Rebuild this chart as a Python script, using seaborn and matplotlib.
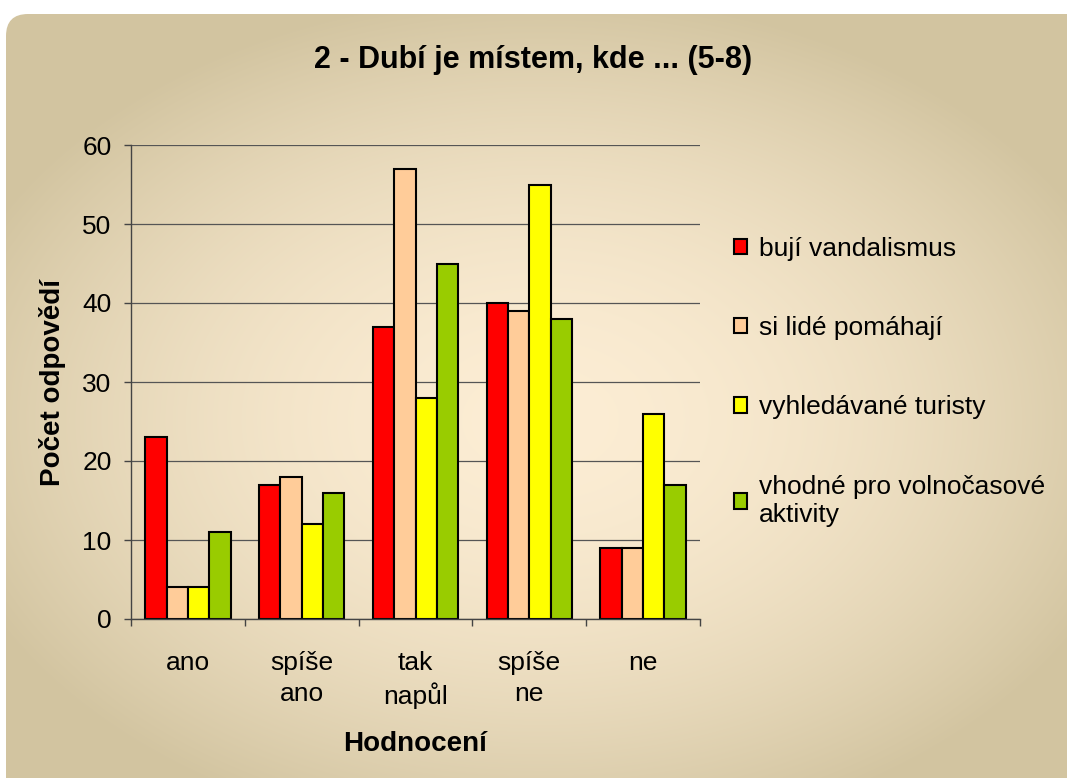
import numpy as np
import pandas as pd
import matplotlib
matplotlib.use("Agg")
import matplotlib.pyplot as plt
import seaborn as sns
from matplotlib.patches import FancyBboxPatch

# data
kategorie = ["ano", "spíše\nano", "tak\nnapůl", "spíše\nne", "ne"]
serie = ["bují vandalismus", "si lidé pomáhají", "vyhledávané turisty",
         "vhodné pro volnočasové\naktivity"]
vandalismus = [23, 17, 37, 40, 9]
pomahaji = [4, 18, 57, 39, 9]
turisty = [4, 12, 28, 55, 26]
volny_cas = [11, 16, 45, 38, 17]
barvy = ["#FF0000", "#FFCC99", "#FFFF00", "#99CC00"]

df = pd.DataFrame({
    "Hodnocení": kategorie * 4,
    "Počet": vandalismus + pomahaji + turisty + volny_cas,
    "Série": [s for s in serie for _ in kategorie],
})

sns.set_theme(style="white")
plt.rcParams["font.family"] = ["Liberation Sans", "DejaVu Sans"]
plt.rcParams["text.color"] = "black"
plt.rcParams["axes.labelcolor"] = "black"
plt.rcParams["xtick.color"] = "black"
plt.rcParams["ytick.color"] = "black"

W, H = 1067, 778
fig = plt.figure(figsize=(W / 100, H / 100), dpi=100)
fig.patch.set_facecolor("white")

# pozadí - zaoblený obdélník s radiálním přechodem
bg = fig.add_axes([0, 0, 1, 1])
bg.set_xlim(0, W)
bg.set_ylim(H, 0)
bg.axis("off")
yy, xx = np.mgrid[0:H, 0:W]
d = np.sqrt(((xx - 540) / 620.0) ** 2 + ((yy - 420) / 430.0) ** 2)
t = np.clip(d, 0, 1) ** 1.8
stred = np.array([252, 237, 212]) / 255
okraj = np.array([210, 196, 160]) / 255
img = stred * (1 - t[..., None]) + okraj * t[..., None]
im = bg.imshow(img, extent=(0, W, H, 0), aspect="auto", zorder=0)
ramecek = FancyBboxPatch((6, 14), W + 40, H + 40, boxstyle="round,pad=0,rounding_size=22",
                         transform=bg.transData, facecolor="none", edgecolor="none")
bg.add_patch(ramecek)
im.set_clip_path(ramecek)

ax = fig.add_axes([131 / W, 1 - 619 / H, (700 - 131) / W, (619 - 145) / H])
ax.set_facecolor("none")

sns.barplot(data=df, x="Hodnocení", y="Počet", hue="Série", palette=barvy,
            saturation=1, edgecolor="black", linewidth=1.5, width=0.75, gap=0, ax=ax)

ax.set_ylim(0, 60)
ax.set_yticks(range(0, 61, 10))
ax.set_xlim(-0.5, 4.5)
ax.yaxis.grid(True, color="#555555", linewidth=0.9)
ax.set_axisbelow(True)
for s in ["top", "right"]:
    ax.spines[s].set_visible(False)
for s in ["left", "bottom"]:
    ax.spines[s].set_color("#444444")
    ax.spines[s].set_linewidth(1.0)

ax.tick_params(axis="y", left=True, length=5, width=1, color="#444444",
               labelsize=19, pad=9)
ax.tick_params(axis="x", which="major", bottom=False, labelsize=19, pad=17)
ax.set_xticks(np.arange(-0.5, 5, 1), minor=True)
ax.tick_params(axis="x", which="minor", bottom=True, length=5, width=1, color="#444444")
for lab in ax.get_xticklabels():
    lab.set_linespacing(1.35)

ax.set_xlabel("Hodnocení", fontsize=20, fontweight="bold", labelpad=16)
ax.set_ylabel("Počet odpovědí", fontsize=20, fontweight="bold", labelpad=12)
fig.text(0.5, 1 - 60 / H, "2 - Dubí je místem, kde ... (5-8)", ha="center", va="center",
         fontsize=22, fontweight="bold")

ax.legend(loc="upper left", bbox_to_anchor=(723 / W, 1 - 226 / H),
          bbox_transform=fig.transFigure, frameon=False, fontsize=19,
          handlelength=0.52, handleheight=0.52, handletextpad=0.45,
          labelspacing=2.1, borderaxespad=0)
for h in ax.get_legend().legend_handles:
    h.set_edgecolor("black")
    h.set_linewidth(1.5)

fig.savefig("out.png", dpi=100)
